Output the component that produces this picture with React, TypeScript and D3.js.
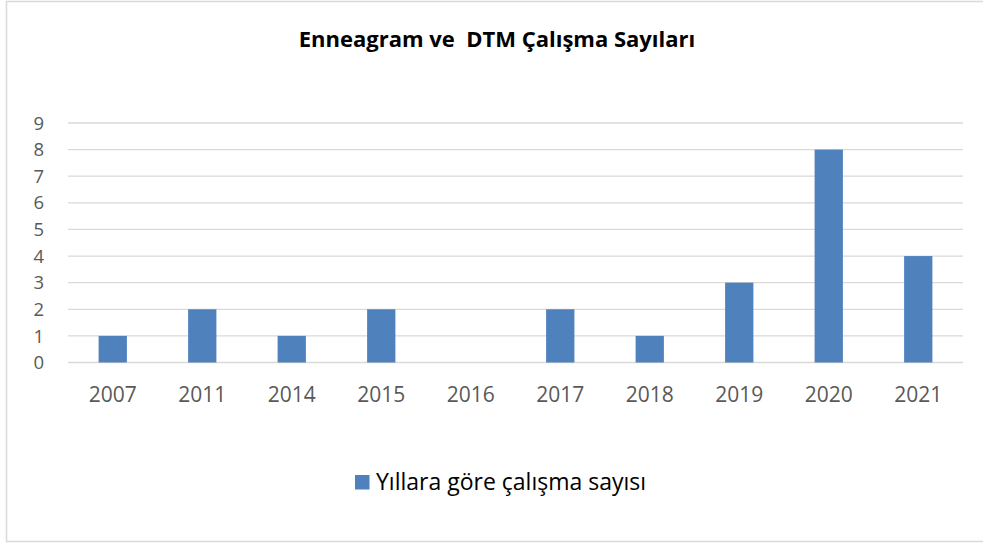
import React, { useEffect, useRef } from 'react';
import * as d3 from 'd3';

const years = ['2007', '2011', '2014', '2015', '2016', '2017', '2018', '2019', '2020', '2021'];
const counts = [1, 2, 1, 2, 0, 2, 1, 3, 8, 4];
const yTicks = [0, 1, 2, 3, 4, 5, 6, 7, 8, 9];
const title = 'Enneagram ve  DTM Çalışma Sayıları';
const seriesName = 'Yıllara göre çalışma sayısı';

const App = () => {
  const ref = useRef<SVGSVGElement>(null);

  useEffect(() => {
    const svg = d3.select(ref.current);
    svg.selectAll('*').remove();

    const width = 983;
    const margin = { left: 68, right: 963, top: 123, bottom: 362.5 };
    const font = '"Open Sans", sans-serif';

    // outer frame (right edge runs off the picture)
    svg.append('rect')
      .attr('x', 6.5)
      .attr('y', 1.5)
      .attr('width', width + 20)
      .attr('height', 540)
      .attr('fill', '#fff')
      .attr('stroke', '#d9d9d9')
      .attr('stroke-width', 1.5);

    const x = d3.scaleBand()
      .domain(years)
      .range([margin.left, margin.right])
      .padding(0);

    const y = d3.scaleLinear()
      .domain([0, 9])
      .range([margin.bottom, margin.top]);

    // gridlines
    svg.append('g')
      .selectAll('line')
      .data(yTicks)
      .enter().append('line')
      .attr('x1', margin.left)
      .attr('x2', margin.right)
      .attr('y1', d => y(d))
      .attr('y2', d => y(d))
      .attr('stroke', '#d9d9d9')
      .attr('stroke-width', 1.3);

    // y labels
    svg.append('g')
      .selectAll('text')
      .data(yTicks)
      .enter().append('text')
      .attr('x', 44)
      .attr('y', d => y(d))
      .attr('dy', '0.36em')
      .attr('text-anchor', 'end')
      .attr('font-family', font)
      .attr('font-size', 18.5)
      .attr('fill', '#595959')
      .text(d => d);

    // bars
    const barW = x.bandwidth() * 0.316;
    svg.append('g')
      .selectAll('rect')
      .data(counts)
      .enter().append('rect')
      .attr('x', (d, i) => x(years[i])! + x.bandwidth() / 2 - barW / 2)
      .attr('y', d => y(d))
      .attr('width', barW)
      .attr('height', d => y(0) - y(d))
      .attr('fill', '#4f81bd');

    // x labels
    svg.append('g')
      .selectAll('text')
      .data(years)
      .enter().append('text')
      .attr('x', d => x(d)! + x.bandwidth() / 2)
      .attr('y', 402)
      .attr('text-anchor', 'middle')
      .attr('font-family', font)
      .attr('font-size', 21)
      .attr('fill', '#595959')
      .text(d => d);

    // title
    svg.append('text')
      .attr('x', 497)
      .attr('y', 47)
      .attr('text-anchor', 'middle')
      .attr('font-family', font)
      .attr('font-weight', 'bold')
      .attr('font-size', 22)
      .attr('fill', '#000')
      .style('white-space', 'pre')
      .text(title);

    // legend
    svg.append('rect')
      .attr('x', 355)
      .attr('y', 475)
      .attr('width', 14.5)
      .attr('height', 14.5)
      .attr('fill', '#4f81bd');

    svg.append('text')
      .attr('x', 376)
      .attr('y', 490)
      .attr('font-family', font)
      .attr('font-size', 23)
      .attr('fill', '#000')
      .text(seriesName);
  }, []);

  return (
    <svg
      ref={ref}
      width={983}
      height={544}
      style={{ position: 'absolute', left: 0, top: 0 }}
    />
  );
};

export default App;
